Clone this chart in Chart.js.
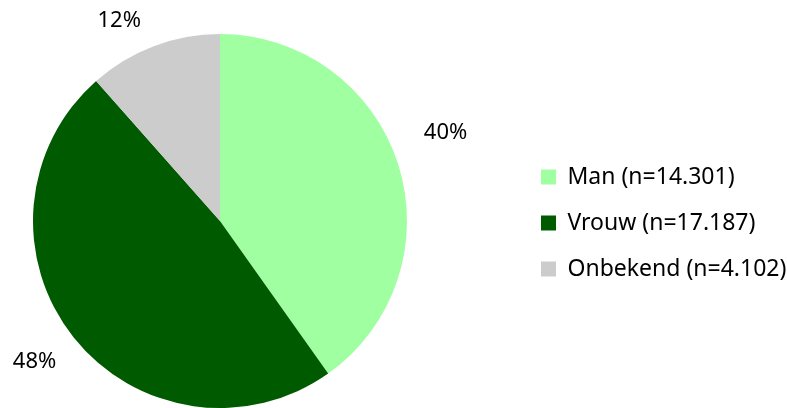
<!DOCTYPE html>
<html>
<head>
<meta charset="utf-8">
<script src="https://cdn.jsdelivr.net/npm/chart.js@4.4.1/dist/chart.umd.min.js"></script>
<style>
  body { margin: 0; background: #fff; }
  #wrap { width: 787px; height: 408px; position: relative; }
</style>
</head>
<body>
<div id="wrap"><canvas id="myChart"></canvas></div>
<script>
// data
let labels = ['Man (n=14.301)', 'Vrouw (n=17.187)', 'Onbekend (n=4.102)'];
let counts = [14301, 17187, 4102];
let colors = ['#A0FFA0', '#005A00', '#CCCCCC'];

let fontFamily = '"Noto Sans", "Open Sans", sans-serif';

// legend sits to the right, with a wide gap from the pie
let legendPlace = {
    id: 'legendPlace',
    afterInit(chart) {
        let lg = chart.legend;
        let fit = lg.fit;
        lg.fit = function () {
            fit.call(lg);
            lg.width = 377;
        };
    },
    afterLayout(chart) {
        chart.legend.left = 518;
        chart.legend.right = 787;
        chart.legend.top += 2;
        chart.legend.bottom += 2;
    }
};

// percentage labels outside the slices
let pctLabels = {
    id: 'pctLabels',
    afterDatasetsDraw(chart) {
        let ctx = chart.ctx;
        let meta = chart.getDatasetMeta(0);
        let data = chart.data.datasets[0].data;
        let total = data.reduce((a, b) => a + b, 0);
        ctx.save();
        ctx.font = '22px ' + fontFamily;
        ctx.fillStyle = '#000';
        ctx.textAlign = 'center';
        ctx.textBaseline = 'middle';
        meta.data.forEach((arc, i) => {
            let p = arc.getProps(['x', 'y', 'startAngle', 'endAngle', 'outerRadius'], true);
            let mid = (p.startAngle + p.endAngle) / 2;
            let dx = Math.cos(mid), dy = Math.sin(mid);
            let txt = Math.round(data[i] / total * 100) + '%';
            let w = ctx.measureText(txt).width;
            let h = 22;
            let d = p.outerRadius + 28;
            let cx = p.x + d * dx + w / 2 * dx;
            let cy = p.y + d * dy + h / 2 * dy;
            if (dy < 0) cy -= 21 * Math.abs(dx);
            if (cy - h / 2 < 10) {
                let push = 10 + h / 2 - cy;
                cy += push;
                cx += (dx < 0 ? -1 : 1) * push * 0.9;
            }
            ctx.fillText(txt, cx, cy);
        });
        ctx.restore();
    }
};

let myChart = document.getElementById('myChart').getContext('2d');
let pie = new Chart(myChart, {
    type: 'pie',
    data: {
        labels: labels,
        datasets: [{
            data: counts,
            backgroundColor: colors,
            borderWidth: 0
        }]
    },
    options: {
        responsive: true,
        maintainAspectRatio: false,
        animation: false,
        layout: {
            padding: { left: 30, top: 34, right: 0, bottom: 0 }
        },
        plugins: {
            legend: {
                position: 'right',
                labels: {
                    boxWidth: 15,
                    boxHeight: 15,
                    padding: 23,
                    color: '#000',
                    font: { family: fontFamily, size: 23 }
                }
            },
            tooltip: { enabled: false }
        }
    },
    plugins: [legendPlace, pctLabels]
});
</script>
</body>
</html>
